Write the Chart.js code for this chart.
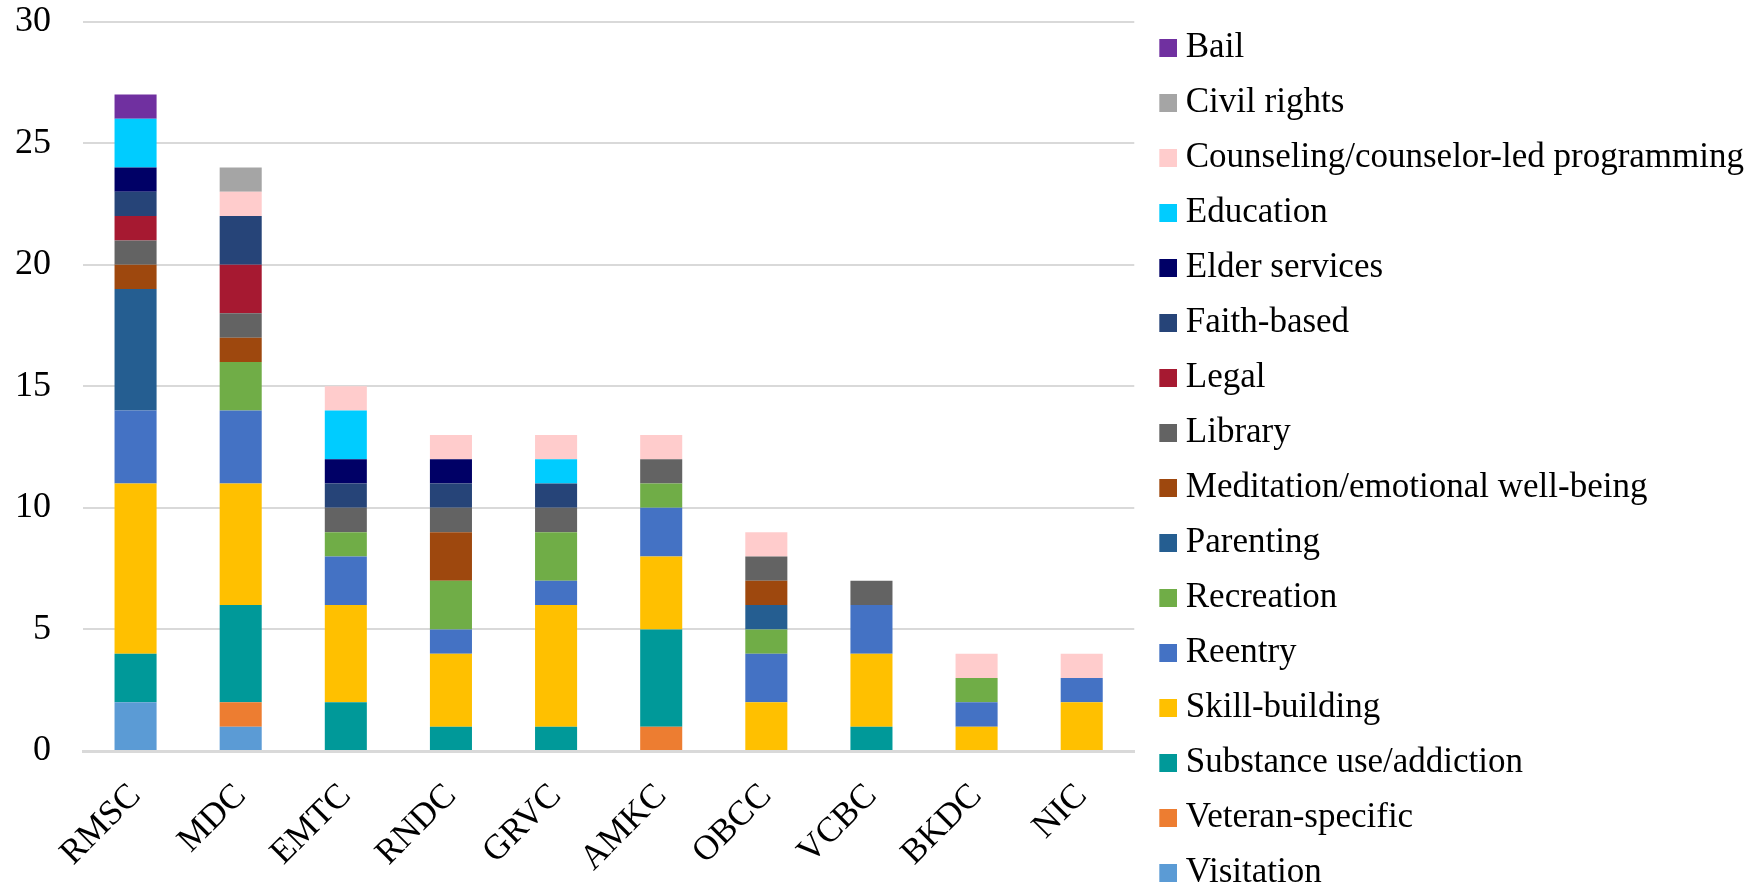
<!DOCTYPE html>
<html>
<head>
<meta charset="utf-8">
<script src="https://cdn.jsdelivr.net/npm/chart.js@4"></script>
<style>
  html, body { margin: 0; padding: 0; background: #fff; overflow: hidden; }
  #wrap { position: relative; width: 1760px; height: 920px; }
</style>
</head>
<body>
<div id="wrap"><canvas id="programChart"></canvas></div>
<script>
const categories = ['RMSC', 'MDC', 'EMTC', 'RNDC', 'GRVC', 'AMKC', 'OBCC', 'VCBC', 'BKDC', 'NIC'];

// one array per program type, listed bottom of the stack first
const visitation    = [2, 1, 0, 0, 0, 0, 0, 0, 0, 0];
const veteran       = [0, 1, 0, 0, 0, 1, 0, 0, 0, 0];
const substanceUse  = [2, 4, 2, 1, 1, 4, 0, 1, 0, 0];
const skillBuilding = [7, 5, 4, 3, 5, 3, 2, 3, 1, 2];
const reentry       = [3, 3, 2, 1, 1, 2, 2, 2, 1, 1];
const recreation    = [0, 2, 1, 2, 2, 1, 1, 0, 1, 0];
const parenting     = [5, 0, 0, 0, 0, 0, 1, 0, 0, 0];
const meditation    = [1, 1, 0, 2, 0, 0, 1, 0, 0, 0];
const library       = [1, 1, 1, 1, 1, 1, 1, 1, 0, 0];
const legal         = [1, 2, 0, 0, 0, 0, 0, 0, 0, 0];
const faithBased    = [1, 2, 1, 1, 1, 0, 0, 0, 0, 0];
const elderServices = [1, 0, 1, 1, 0, 0, 0, 0, 0, 0];
const education     = [2, 0, 2, 0, 1, 0, 0, 0, 0, 0];
const counseling    = [0, 1, 1, 1, 1, 1, 1, 0, 1, 1];
const civilRights   = [0, 1, 0, 0, 0, 0, 0, 0, 0, 0];
const bail          = [1, 0, 0, 0, 0, 0, 0, 0, 0, 0];

const seriesLabels = [
  'Visitation', 'Veteran-specific', 'Substance use/addiction', 'Skill-building',
  'Reentry', 'Recreation', 'Parenting', 'Meditation/emotional well-being',
  'Library', 'Legal', 'Faith-based', 'Elder services', 'Education',
  'Counseling/counselor-led programming', 'Civil rights', 'Bail'
];
const seriesValues = [
  visitation, veteran, substanceUse, skillBuilding, reentry, recreation, parenting,
  meditation, library, legal, faithBased, elderServices, education, counseling,
  civilRights, bail
];
const seriesColors = [
  '#5B9BD5', '#ED7D31', '#009999', '#FFC000', '#4472C4', '#70AD47', '#255E91',
  '#9E480E', '#636363', '#A61931', '#264478', '#000066', '#00CCFF', '#FFCCCC',
  '#A5A5A5', '#7030A0'
];

const FONT = "'Liberation Serif', 'Times New Roman', serif";

// legend swatch: square sits right of centre so the label starts close to it
function swatch(color) {
  const c = document.createElement('canvas');
  c.width = 32;
  c.height = 18;
  const g = c.getContext('2d');
  g.fillStyle = color;
  g.fillRect(14, 0, 18, 18);
  return c;
}

// chart.js limits a side legend to a quarter of the canvas width, lift that
const wideLegend = {
  id: 'wideLegend',
  beforeLayout(chart) {
    const legend = chart.legend;
    if (!legend || legend._wide) return;
    legend._wide = true;
    const fit = legend.fit;
    legend.fit = function () {
      this.maxWidth = chart.width;
      fit.call(this);
    };
  }
};

const datasets = seriesLabels.map((label, i) => ({
  label: label,
  data: seriesValues[i],
  backgroundColor: seriesColors[i],
  borderWidth: 0
}));

const ctx = document.getElementById('programChart').getContext('2d');
new Chart(ctx, {
  type: 'bar',
  data: { labels: categories, datasets: datasets },
  plugins: [wideLegend],
  options: {
    responsive: true,
    maintainAspectRatio: false,
    animation: false,
    layout: { padding: { top: 0, right: 6, bottom: 0, left: 0 } },
    datasets: {
      bar: { categoryPercentage: 1, barPercentage: 0.4 }
    },
    scales: {
      x: {
        stacked: true,
        grid: { display: false, drawTicks: false },
        border: { display: true, color: '#D9D9D9', width: 3 },
        ticks: {
          color: '#000',
          font: { family: FONT, size: 35, lineHeight: 1 },
          padding: 27,
          minRotation: 45,
          maxRotation: 45,
          autoSkip: false
        },
        afterFit(scale) { scale.height = 169; }
      },
      y: {
        stacked: true,
        min: 0,
        max: 30,
        // invisible tick marks keep the labels off the plot without extra top padding
        grid: { color: '#D9D9D9', lineWidth: 2, drawTicks: true, tickLength: 32, tickColor: 'rgba(0,0,0,0)' },
        border: { display: false },
        ticks: {
          stepSize: 5,
          color: '#000',
          font: { family: FONT, size: 36 },
          padding: 0
        },
        afterFit(scale) { scale.width = 83; }
      }
    },
    plugins: {
      tooltip: { enabled: false },
      legend: {
        position: 'right',
        reverse: true,
        labels: {
          color: '#000',
          font: { family: FONT, size: 35 },
          padding: 20,
          usePointStyle: true,
          pointStyleWidth: 14,
          generateLabels(chart) {
            const items = Chart.defaults.plugins.legend.labels.generateLabels(chart);
            items.forEach(item => { item.pointStyle = swatch(item.fillStyle); });
            return items;
          }
        }
      }
    }
  }
});
</script>
</body>
</html>
